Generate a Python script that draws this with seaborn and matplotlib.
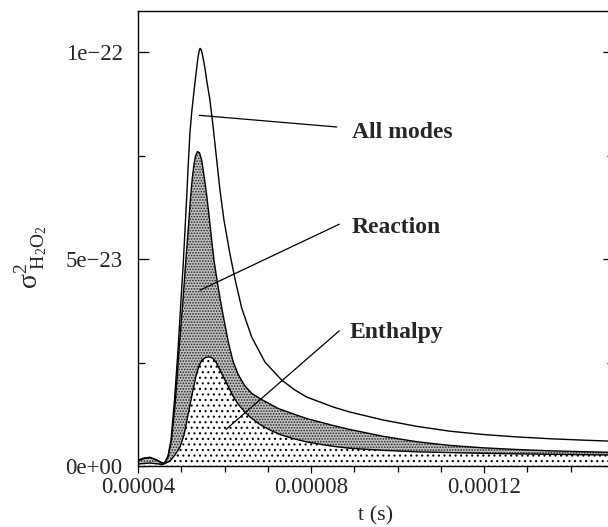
import numpy as np
import matplotlib
matplotlib.use("Agg")
import matplotlib.pyplot as plt
from matplotlib.ticker import FixedLocator, MultipleLocator
import seaborn as sns

# ---- data (t in units of 1e-5 s, variance in units of 1e-23) ----
t_all = np.array([4.000, 4.139, 4.277, 4.416, 4.578, 4.624, 4.694, 4.763, 4.844, 4.925,
                  4.994, 5.047, 5.126, 5.163, 5.202, 5.242, 5.279, 5.318, 5.353, 5.387,
                  5.415, 5.434, 5.457, 5.484, 5.514, 5.549, 5.588, 5.664, 5.741, 5.820,
                  5.896, 5.988, 6.127, 6.243, 6.398, 6.629, 6.936, 7.322, 7.630, 7.901,
                  8.516, 8.902, 9.672, 10.444, 11.214, 11.984, 12.756, 13.526, 14.219, 14.913])
v_all = np.array([0.145, 0.193, 0.210, 0.157, 0.065, 0.097, 0.242, 0.628, 1.594, 2.802,
                  4.010, 4.903, 6.498, 7.319, 8.068, 8.551, 8.913, 9.276, 9.590, 9.879,
                  10.036, 10.097, 10.073, 9.976, 9.808, 9.614, 9.324, 8.841, 8.164, 7.391,
                  6.667, 5.942, 5.121, 4.517, 3.817, 3.116, 2.512, 2.077, 1.836, 1.667,
                  1.425, 1.304, 1.111, 0.959, 0.841, 0.761, 0.703, 0.659, 0.628, 0.601])

t_reac = np.array([4.000, 4.139, 4.277, 4.416, 4.578, 4.624, 4.694, 4.775, 4.867, 4.948,
                   5.040, 5.098, 5.163, 5.214, 5.255, 5.295, 5.329, 5.376, 5.422, 5.473,
                   5.526, 5.588, 5.642, 5.704, 5.757, 5.827, 5.896, 5.972, 6.088, 6.196,
                   6.312, 6.474, 6.636, 6.860, 7.244, 7.630, 7.901, 8.516, 8.902, 9.672,
                   10.444, 11.214, 11.984, 12.756, 13.526, 14.219, 14.913])
v_reac = np.array([0.121, 0.181, 0.205, 0.145, 0.060, 0.085, 0.217, 0.628, 1.594, 2.802,
                   4.010, 4.855, 5.749, 6.474, 6.957, 7.295, 7.488, 7.602, 7.573, 7.391,
                   7.029, 6.546, 6.063, 5.459, 4.976, 4.493, 4.058, 3.623, 2.995, 2.536,
                   2.222, 1.932, 1.751, 1.606, 1.389, 1.244, 1.147, 0.978, 0.882, 0.717,
                   0.587, 0.497, 0.439, 0.399, 0.367, 0.348, 0.331])

t_enth = np.array([4.000, 4.277, 4.578, 4.740, 4.855, 4.971, 5.064, 5.133, 5.202, 5.272,
                   5.341, 5.410, 5.480, 5.561, 5.642, 5.723, 5.803, 5.896, 5.988, 6.081,
                   6.196, 6.312, 6.451, 6.590, 6.821, 7.052, 7.283, 7.584, 7.907, 8.509,
                   8.902, 9.665, 10.451, 11.214, 11.977, 13.526, 14.913])
v_enth = np.array([0.048, 0.072, 0.036, 0.121, 0.266, 0.459, 0.749, 1.111, 1.473, 1.836,
                   2.174, 2.416, 2.560, 2.621, 2.640, 2.609, 2.512, 2.319, 2.126, 1.932,
                   1.691, 1.498, 1.329, 1.184, 1.002, 0.870, 0.761, 0.664, 0.580, 0.476,
                   0.428, 0.379, 0.343, 0.324, 0.307, 0.283, 0.266])

T_SCALE = 1e-5
V_SCALE = 1e-23

x_ticks = [0.00004, 0.00008, 0.00012]
x_ticklabels = ["0.00004", "0.00008", "0.00012"]
y_ticks = [0.0, 5e-23, 1e-22]
y_ticklabels = ["0e+00", "5e\u221223", "1e\u221222"]

labels = ["All modes", "Reaction", "Enthalpy"]
# leader lines: (t0, v0) -> (t1, v1), same units as the data
leader_t0 = [5.417, 5.434, 6.035]
leader_v0 = [8.478, 4.251, 0.886]
leader_t1 = [8.594, 8.654, 8.654]
leader_v1 = [8.196, 5.846, 3.268]
label_t = [8.948, 8.948, 8.902]
label_v = [8.068, 5.773, 3.237]

# ---- style ----
sns.set_theme(style="white")
plt.rcParams["font.family"] = ["Liberation Serif", "DejaVu Serif"]
plt.rcParams["mathtext.fontset"] = "custom"
plt.rcParams["mathtext.rm"] = "Liberation Serif"
plt.rcParams["mathtext.it"] = "Liberation Serif:italic"
plt.rcParams["hatch.linewidth"] = 0.8

fig = plt.figure(figsize=(6.08, 5.27), dpi=100)
ax = fig.add_axes([138 / 608, 61 / 527, 475.75 / 608, 455 / 527])

tA, vA = t_all * T_SCALE, v_all * V_SCALE
tR, vR = t_reac * T_SCALE, v_reac * V_SCALE
tE, vE = t_enth * T_SCALE, v_enth * V_SCALE

# fills
ax.fill_between(tE, 0, vE, facecolor="white", edgecolor="black", hatch="...",
                linewidth=0)
poly_t = np.concatenate([tR, tE[::-1]])
poly_v = np.concatenate([vR, vE[::-1]])
ax.fill(poly_t, poly_v, facecolor="#c2c2c2", edgecolor="#202020", hatch="......",
        linewidth=0)

for t, v in [(tA, vA), (tR, vR), (tE, vE)]:
    sns.lineplot(x=t, y=v, ax=ax, color="black", linewidth=1.0, estimator=None)

# annotations
for i, lab in enumerate(labels):
    ax.plot([leader_t0[i] * T_SCALE, leader_t1[i] * T_SCALE],
            [leader_v0[i] * V_SCALE, leader_v1[i] * V_SCALE],
            color="black", linewidth=0.9)
    ax.text(label_t[i] * T_SCALE, label_v[i] * V_SCALE, lab, fontsize=17,
            fontweight="bold", ha="left", va="center")

ax.set_xlim(0.00004, 0.00015)
ax.set_ylim(0, 1.1e-22)

ax.xaxis.set_major_locator(FixedLocator(x_ticks))
ax.set_xticklabels(x_ticklabels)
ax.xaxis.set_minor_locator(MultipleLocator(1e-5))
ax.yaxis.set_major_locator(FixedLocator(y_ticks))
ax.set_yticklabels(y_ticklabels)
ax.yaxis.set_minor_locator(FixedLocator([2.5e-23, 7.5e-23]))

ax.tick_params(axis="x", which="both", direction="out", bottom=True, top=False,
               labelsize=16.5, pad=3, color="black", width=0.9)
ax.tick_params(axis="x", which="major", length=5)
ax.tick_params(axis="x", which="minor", length=4)
ax.tick_params(axis="y", which="both", direction="in", left=True, right=True,
               labelsize=16.5, pad=11, color="black", width=0.9)
ax.tick_params(axis="y", which="major", length=8)
ax.tick_params(axis="y", which="minor", length=5)

for s in ax.spines.values():
    s.set_color("black")
    s.set_linewidth(1.0)

ax.set_xlabel("t (s)", fontsize=16, labelpad=6)
ax.set_ylabel(r"$\mathrm{\sigma}^{2}_{\ \mathrm{H_2O_2}}$", fontsize=20)
ax.yaxis.set_label_coords(-0.185, 0.46)

fig.savefig("out.png", dpi=100)
